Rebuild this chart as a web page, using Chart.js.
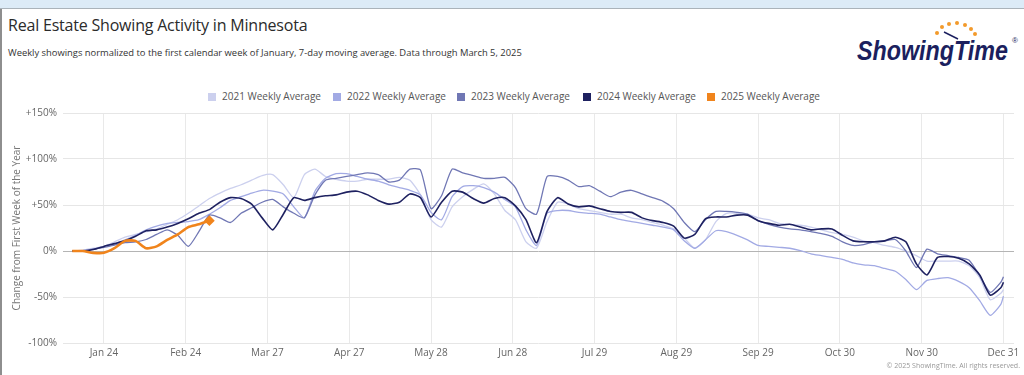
<!DOCTYPE html>
<html>
<head>
<meta charset="utf-8">
<script src="https://cdn.jsdelivr.net/npm/chart.js@4"></script>
<style>
  body { margin: 0; width: 1024px; height: 375px; position: relative; overflow: hidden; background: #fff; font-family: 'Open Sans', sans-serif; }
  .topbar { position: absolute; left: 0; top: 0; width: 1024px; height: 8px; background: #dcebf7; border-bottom: 1px solid #aab3ba; }
  .leftbar { position: absolute; left: 0; top: 9px; width: 2px; height: 366px; background: #8e8e8e; }
  #title { position: absolute; left: 8px; top: 14px; font-size: 16px; letter-spacing: -0.2px; color: #2b2b2b; white-space: nowrap; }
  #subtitle { position: absolute; left: 8px; top: 46px; font-size: 9.4px; color: #333; white-space: nowrap; }
  #logo { position: absolute; left: 850px; top: 15px; }
  .leg { position: absolute; top: 89px; font-size: 10px; color: #555; white-space: nowrap; line-height: 14px; }
  .leg i { display: inline-block; width: 8px; height: 8px; margin-right: 6px; vertical-align: -0.5px; }
  #wrap { position: absolute; left: 0; top: 100px; width: 1024px; height: 275px; }
  #footer { position: absolute; right: 4px; top: 361px; font-size: 7px; color: #999; white-space: nowrap; }
</style>
</head>
<body>
<div class="topbar"></div>
<div class="leftbar"></div>
<div id="title">Real Estate Showing Activity in Minnesota</div>
<div id="subtitle">Weekly showings normalized to the first calendar week of January, 7-day moving average. Data through March 5, 2025</div>
<div id="logo">
  <svg width="174" height="56" xmlns="http://www.w3.org/2000/svg">
    <g fill="#f39a2b">
      <circle cx="87" cy="18" r="2"/><circle cx="92" cy="12" r="2"/><circle cx="99" cy="9" r="2"/>
      <circle cx="107" cy="8" r="2"/><circle cx="115" cy="10" r="2"/><circle cx="121" cy="14" r="2"/>
      <circle cx="125" cy="19" r="2"/>
    </g>
    <line x1="94" y1="17" x2="108" y2="24" stroke="#1b1f5e" stroke-width="1.5"/>
    <text x="7" y="45" font-family="Liberation Sans" font-weight="bold" font-style="italic" font-size="28" fill="#1b1f5e" textLength="151" lengthAdjust="spacingAndGlyphs">ShowingTime</text>
    <text x="162" y="28" font-family="Liberation Sans" font-size="8" fill="#1b1f5e">®</text>
  </svg>
</div>
<div id="legend"></div>
<div id="wrap"><canvas id="chart" width="1024" height="275"></canvas></div>
<div id="footer">© 2025 ShowingTime. All rights reserved.</div>

<script>
// Real Estate Showing Activity in Minnesota

// ==================== DATA ====================
// day of year for each sample
const days = [12, 16, 20, 24, 28, 32, 36, 40, 44, 48, 52, 56, 60, 64, 68, 72, 76, 80, 84, 88,
    92, 96, 100, 104, 108, 112, 116, 120, 124, 128, 132, 136, 140, 144, 148, 152, 156, 160, 164, 168,
    172, 176, 180, 184, 188, 192, 196, 200, 204, 208, 212, 216, 220, 224, 228, 232, 236, 240, 244, 248,
    252, 256, 260, 264, 268, 272, 276, 280, 284, 288, 292, 296, 300, 304, 308, 312, 316, 320, 324, 328,
    332, 336, 340, 344, 348, 352, 356, 360, 364, 365];

const avg2021 = [0, 1, 3, 5, 10, 15, 18, 21, 24, 29, 34, 41, 49, 57, 63, 68, 72, 77, 82, 83,
    72, 58, 83, 89, 81, 78, 76, 76, 78, 78, 78, 80, 77, 61, 34, 26, 48, 59, 67, 73,
    62, 44, 34, 10, 3, 32, 53, 51, 46, 44, 42, 40, 40, 36, 34, 31, 28, 24, 14, 3,
    12, 32, 41, 41, 40, 36, 34, 30, 29, 28, 26, 23, 20, 18, 15, 11, 9, 6, 4, 0,
    -5, -11, -11, -11, -11, -16, -29, -53, -46, -42];

const avg2022 = [0, 0.5, 2, 5, 8, 12, 17, 23, 27, 30, 31, 32, 34, 40, 47, 55, 59, 63, 66, 65,
    62, 48, 36, 65, 79, 84, 84, 81, 78, 76, 72, 69, 66, 61, 42, 34, 59, 70, 71, 69,
    64, 56, 48, 23, 6, 41, 44, 44, 42, 41, 40, 37, 34, 32, 30, 28, 26, 23, 11, 3,
    12, 22, 21, 17, 12, 6, 5, 4, 3, 0.5, -3, -5, -7, -9, -13, -15, -16, -19, -22, -31,
    -42, -32, -30, -29, -33, -40, -54, -70, -58, -49];

const avg2023 = [0, 0.5, 2, 4, 6.5, 9, 10, 12.5, 18, 23, 17, 5, 21, 39, 36, 31, 41, 47, 53, 56,
    48, 41, 36, 61, 77, 79, 81, 83, 85, 83, 75, 77, 89, 88, 46, 60, 89, 85, 82, 79,
    79, 80, 69, 46, 40, 81, 81, 77, 70, 71, 65, 59, 64, 66, 62, 58, 54, 46, 31, 21,
    34, 43, 43, 42, 40, 33, 29, 26, 24, 23, 21, 19, 16, 10, 6, 7, 10, 11, 12.5, 0,
    -18, 2, -3, -5, -7, -10, -27, -45, -34, -28];

const avg2024 = [0, 0, 1.6, 5, 8, 11, 16, 22, 23, 26, 30, 35, 41, 45, 53, 58, 57, 51, 36, 23,
    40, 58, 55, 58, 60, 61, 64, 65, 61, 55, 51, 53, 62, 58, 37, 53, 65, 64, 57, 52,
    57, 58, 49, 34, 9, 43, 58, 51, 48, 49, 46, 43, 42, 42, 36, 33, 31, 27, 14, 18,
    35, 37, 37, 39, 39, 33, 30, 28, 29, 26, 23, 24, 24, 17, 11, 10, 10, 11, 15, 10,
    -14, -26, -7, -6, -8, -14, -26, -48, -40, -34];

// 2025 runs through March 5
const avg2025 = [0, 0, -2, -2, 3, 11, 11, 3, 5, 12, 18, 26, 29, 33];

const seriesLabels = ['2021 Weekly Average', '2022 Weekly Average', '2023 Weekly Average', '2024 Weekly Average', '2025 Weekly Average'];
const seriesColors = ['#ccd0ee', '#a2aae4', '#7077b4', '#1e2160', '#f0841c'];
const seriesValues = [avg2021, avg2022, avg2023, avg2024, avg2025];

const xTickDays = [24, 55, 86, 117, 148, 179, 210, 241, 272, 303, 334, 365];
const xTickLabels = ['Jan 24', 'Feb 24', 'Mar 27', 'Apr 27', 'May 28', 'Jun 28', 'Jul 29', 'Aug 29', 'Sep 29', 'Oct 30', 'Nov 30', 'Dec 31'];
const yTickValues = [-100, -50, 0, 50, 100, 150];
const yTickLabels = ['-100%', '-50%', '0%', '+50%', '+100%', '+150%'];

// ==================== LEGEND ====================
const legendX = [208, 333, 457, 583, 707];
const legendEl = document.getElementById('legend');
seriesLabels.forEach((name, i) => {
    legendEl.innerHTML += `<div class="leg" style="left:${legendX[i]}px"><i style="background:${seriesColors[i]}"></i>${name}</div>`;
});

// ==================== CHART ====================
const datasets = seriesValues.map((vals, i) => {
    const last = vals.length - 1;
    return {
        label: seriesLabels[i],
        data: vals.map((v, j) => ({ x: days[j], y: v })),
        borderColor: seriesColors[i],
        backgroundColor: seriesColors[i],
        borderWidth: i === 4 ? 2.6 : (i === 3 ? 1.6 : 1.3),
        tension: 0.2,
        pointStyle: 'rectRot',
        pointRadius: i === 4 ? (ctx => ctx.dataIndex === last ? 3.5 : 0) : 0,
        order: 4 - i
    };
});

new Chart(document.getElementById('chart'), {
    type: 'line',
    data: { datasets },
    options: {
        responsive: false,
        animation: false,
        layout: { padding: { top: 13, right: 10, bottom: 0, left: 0 } },
        plugins: { legend: { display: false }, tooltip: { enabled: false } },
        scales: {
            x: {
                type: 'linear', min: 8.5, max: 369,
                afterBuildTicks: s => { s.ticks = xTickDays.map(v => ({ value: v })); },
                afterFit: s => { s.height = 32; },
                ticks: {
                    autoSkip: false, maxRotation: 0, padding: 4, color: '#666',
                    font: { family: 'Open Sans', size: 10 },
                    callback: v => xTickLabels[xTickDays.indexOf(v)]
                },
                grid: { color: '#e9e9e9', drawTicks: false },
                border: { display: false }
            },
            y: {
                min: -100, max: 150,
                afterBuildTicks: s => { s.ticks = yTickValues.map(v => ({ value: v })); },
                afterFit: s => { s.width = 63; },
                ticks: {
                    padding: 6, color: '#666',
                    font: { family: 'Open Sans', size: 10 },
                    callback: v => yTickLabels[yTickValues.indexOf(v)]
                },
                grid: { color: c => c.tick && c.tick.value === 0 ? '#b4b4b4' : '#e6e6e6', drawTicks: false },
                border: { display: false },
                title: {
                    display: true, text: 'Change from First Week of the Year', color: '#777',
                    font: { family: 'Open Sans', size: 10 }, padding: { top: 11 }
                }
            }
        }
    }
});
</script>
</body>
</html>
